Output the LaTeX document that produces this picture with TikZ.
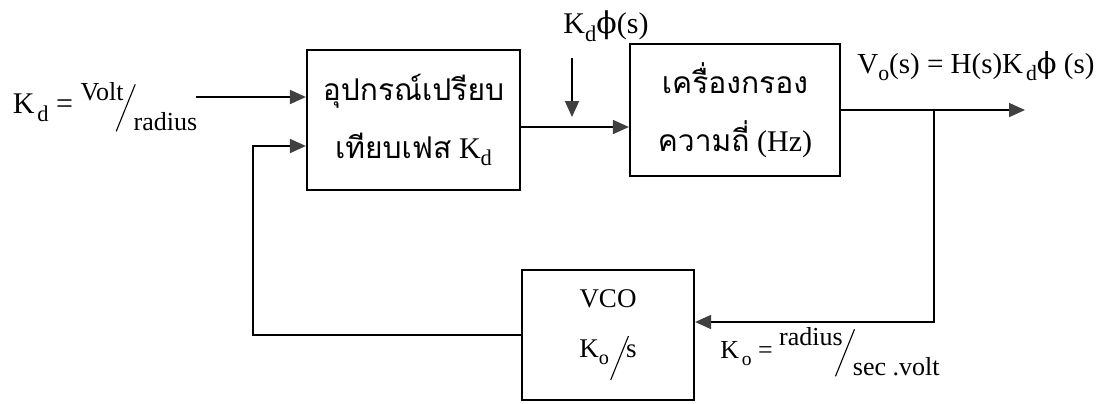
\documentclass[tikz,border=0pt]{standalone}
\usepackage{fontspec}
\usepackage{graphicx}
\setmainfont{Liberation Serif}
\newfontfamily\thai[Script=Thai]{Loma}
\newfontfamily\phifont{DejaVu Serif}
\usetikzlibrary{arrows.meta}
\newcommand\phis{{\phifont ϕ}}
\newcommand\subl[1]{\raisebox{-0.55ex}{\scalebox{0.75}{#1}}}
\newcommand\longslash[1]{\raisebox{-1.5ex}{\rotatebox{68}{\rule{#1}{0.55pt}}}}
\newcommand\slfrac[2]{\raisebox{1.1ex}{#1}\kern-0.3em\longslash{1.95em}\kern-0.08em\raisebox{-1.4ex}{#2}}
\tikzset{
  blk/.style={draw, line width=1.1pt, align=center, inner sep=0pt},
  arr/.style={line width=0.9pt, -{Triangle[length=8pt,width=7pt,color=black!75]}},
  lbl/.style={inner sep=0pt}
}
\begin{document}
\begin{tikzpicture}[x=0.5pt,y=-0.5pt]
\useasboundingbox (0,0) rectangle (1104,403);
% blocks
\node[blk, minimum width=106.5pt, minimum height=70pt,
      font=\fontsize{15}{29}\selectfont] (pd) at (413.5,120)
      {{\thai อุปกรณ์เปรียบ}\\{\thai เทียบเฟส} K\subl{d}};
\node[blk, minimum width=105pt, minimum height=66pt,
      font=\fontsize{15}{29}\selectfont] (flt) at (735,110)
      {{\thai เครื่องกรอง}\\{\thai ความถี่} (Hz)};
\node[blk, minimum width=86pt, minimum height=65pt,
      font=\fontsize{13.5}{25}\selectfont] (vco) at (608,335)
      {VCO\\K\subl{o}\kern0.05em\raisebox{-0.3ex}{\longslash{1.75em}}\kern-0.1em s};
% labels
\node[lbl, font=\fontsize{15}{18}\selectfont] (kdl) at (105,107)
      {K\kern0.1em\subl{d} = {\fontsize{13}{15}\selectfont\slfrac{Volt}{radius}}};
\node[lbl, font=\fontsize{14.5}{17}\selectfont] (vol) at (976,66)
      {V\subl{o}(s) = H(s)K\kern0.1em\subl{d}\phis\ (s)};
\node[lbl, font=\fontsize{13}{16}\selectfont] (kol) at (830,352)
      {K\kern0.1em\subl{o} = \slfrac{radius}{sec .volt}};
\node[lbl, font=\fontsize{15}{18}\selectfont] (kdp) at (606,26)
      {K\subl{d}\phis(s)};
% connectors
\coordinate (inS) at (196,97);
\draw[arr] (inS) -- (inS -| pd.west);
\coordinate (fbA) at (253,146);
\draw[arr] (vco.west) -| (fbA) -- (fbA -| pd.west);
\coordinate (mid) at (575,127);
\draw[arr] (mid -| pd.east) -- (mid -| flt.west);
\coordinate (dtop) at (572,58);
\coordinate (dbot) at (572,117);
\draw[arr] (dtop) -- (dbot);
\coordinate (br) at (934,110);
\coordinate (outE) at (1025,110);
\draw[arr] (flt.east) -- (outE);
\coordinate (fbR) at (934,322);
\draw[arr] (br) -- (fbR) -- (fbR -| vco.east);
\end{tikzpicture}
\end{document}
